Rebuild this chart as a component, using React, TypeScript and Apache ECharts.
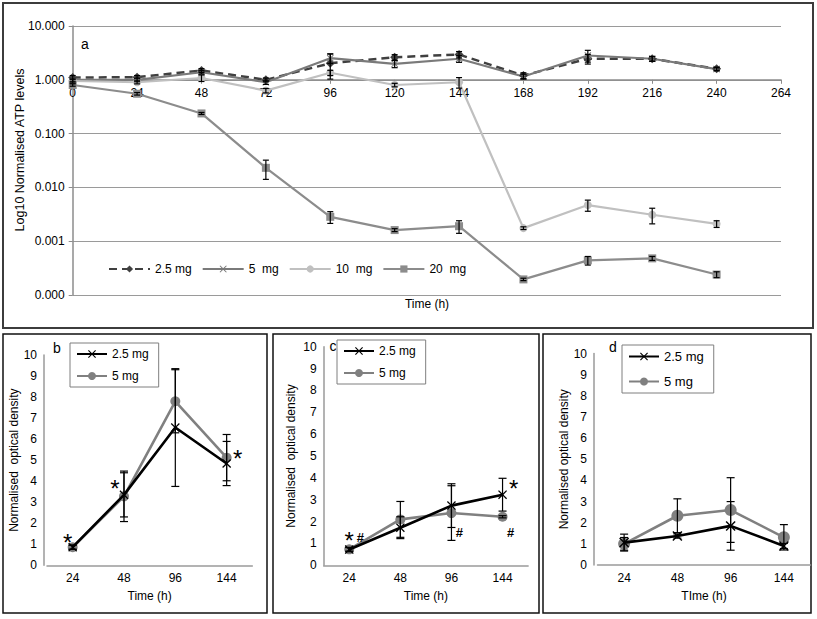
import React, { useEffect, useRef } from "react";
import * as echarts from "echarts";

const FONT = "'Liberation Sans', Arial, sans-serif";

// ---------- Panel a : ATP levels (log scale) ----------
const hoursA = [0, 24, 48, 72, 96, 120, 144, 168, 192, 216, 240];
const atp25 = [1.1, 1.12, 1.49, 1.0, 2.03, 2.63, 2.95, 1.2, 2.46, 2.46, 1.6];
const atp25Err = [0.1, 0.08, 0.12, 0.08, 1.0, 0.3, 0.4, 0.15, 0.5, 0.25, 0.12];
const atp5 = [1.0, 1.0, 1.38, 0.9, 2.52, 1.98, 2.46, 1.15, 2.83, 2.46, 1.58];
const atp5Err = [0.08, 0.08, 0.1, 0.08, 0.5, 0.3, 0.35, 0.12, 0.7, 0.25, 0.1];
const atp10 = [0.95, 0.9, 1.08, 0.63, 1.35, 0.8, 0.9, 0.00175, 0.0047, 0.0031, 0.0021];
const atp10Err = [0.08, 0.06, 0.15, 0.06, 0.15, 0.06, 0.2, 0.0001, 0.0011, 0.001, 0.0003];
const atp20 = [0.8, 0.55, 0.237, 0.0231, 0.00284, 0.00161, 0.0019, 0.000195, 0.00044, 0.00048, 0.00024];
const atp20Err = [0.04, 0.03, 0.01, 0.009, 0.0007, 0.0001, 0.0005, 0.00001, 0.00008, 0.00004, 0.00003];
const legendA = ["2.5 mg", "5  mg", "10  mg", "20  mg"];

// ---------- Panels b, c, d : optical density ----------
const timeCats = ["24", "48", "96", "144"];
const legendBCD = ["2.5 mg", "5 mg"];
const b25 = [0.86, 3.35, 6.55, 4.84];
const b25Err = [0.1, 1.05, 2.8, 1.05];
const b5 = [0.86, 3.28, 7.8, 5.12];
const b5Err = [0.1, 1.2, 1.5, 1.1];
const c25 = [0.72, 1.72, 2.73, 3.23];
const c25Err = [0.1, 0.5, 1.0, 0.75];
const c5 = [0.73, 2.1, 2.39, 2.22];
const c5Err = [0.08, 0.82, 1.25, 0.05];
const d25 = [1.06, 1.37, 1.85, 0.9];
const d25Err = [0.4, 0.1, 1.15, 0.12];
const d5 = [1.0, 2.33, 2.6, 1.31];
const d5Err = [0.3, 0.8, 1.53, 0.6];

// significance marks: text, category index, value they sit beside
const notesB = [
  { text: "*", cat: 0, value: 0.86 },
  { text: "*", cat: 1, value: 3.3 },
  { text: "*", cat: 3, value: 5.12 },
];
const notesC = [
  { text: "*", cat: 0, value: 0.73 },
  { text: "#", cat: 0, value: 0.73 },
  { text: "#", cat: 2, value: 2.39 },
  { text: "#", cat: 3, value: 2.22 },
  { text: "*", cat: 3, value: 3.23 },
];
const notesBOffset = [[-5, -5], [-9, -7], [11, 1]];
const notesCOffset = [[0, -9], [11, -12], [8, 19], [8, 16], [11, -6]];

const XMARK = "path://M1,0L5,4L9,0L10,1L6,5L10,9L9,10L5,6L1,10L0,9L4,5L0,1Z";

function errBars(xs: number[], ys: number[], errs: number[], gi: number, cap: number) {
  return {
    type: "custom",
    xAxisIndex: gi,
    yAxisIndex: gi,
    silent: true,
    z: 5,
    data: xs.map((x, i) => [x, ys[i] - errs[i], ys[i] + errs[i]]),
    encode: { x: 0, y: [1, 2] },
    renderItem: (params: any, api: any) => {
      const x = api.value(0);
      const a = api.coord([x, api.value(2)]);
      const b = api.coord([x, api.value(1)]);
      const st = { stroke: "#000", lineWidth: 1.2 };
      return {
        type: "group",
        children: [
          { type: "line", shape: { x1: a[0], y1: a[1], x2: b[0], y2: b[1] }, style: st },
          { type: "line", shape: { x1: a[0] - cap, y1: a[1], x2: a[0] + cap, y2: a[1] }, style: st },
          { type: "line", shape: { x1: b[0] - cap, y1: b[1], x2: b[0] + cap, y2: b[1] }, style: st },
        ],
      };
    },
  };
}

function notesSeries(notes: any[], offsets: number[][], gi: number) {
  return {
    type: "custom",
    xAxisIndex: gi,
    yAxisIndex: gi,
    silent: true,
    z: 6,
    data: notes.map((n) => [n.cat, n.value]),
    renderItem: (params: any, api: any) => {
      const i = params.dataIndex;
      const p = api.coord([api.value(0), api.value(1)]);
      const t = notes[i].text;
      const big = t === "*";
      return {
        type: "text",
        x: p[0] + offsets[i][0],
        y: p[1] + offsets[i][1],
        style: {
          text: t,
          fill: "#000",
          fontFamily: FONT,
          fontSize: big ? 24 : 13,
          fontWeight: big ? "normal" : "bold",
          align: "center",
          verticalAlign: "middle",
        },
      };
    },
  };
}

function lineA(name: string, vals: number[], color: string, symbol: string, size: number, dashed?: boolean) {
  return {
    type: "line",
    name,
    xAxisIndex: 0,
    yAxisIndex: 0,
    data: hoursA.map((h, i) => [h, vals[i]]),
    symbol,
    symbolSize: size,
    itemStyle: { color },
    lineStyle: { color, width: dashed ? 2.5 : 2.2, type: dashed ? [8, 5] : "solid" },
    z: 3,
  };
}

function linePanel(name: string, vals: number[], gi: number, black: boolean, size: number) {
  const color = black ? "#000000" : "#808080";
  return {
    type: "line",
    name,
    xAxisIndex: gi,
    yAxisIndex: gi,
    data: vals,
    symbol: black ? XMARK : "circle",
    symbolSize: black ? size - 1 : size,
    itemStyle: { color },
    lineStyle: { color, width: 2.6 },
    z: black ? 3 : 2,
  };
}

function panelAxes(gi: number, yOffset: number, nameGapY: number, yName: string, xName: string, fs: number) {
  const x = {
    type: "category",
    gridIndex: gi,
    data: timeCats,
    axisLine: { lineStyle: { color: "#9a9a9a", width: 1.5 } },
    axisTick: { show: false },
    axisLabel: { color: "#000", fontSize: fs, fontFamily: FONT, margin: 7 },
    name: xName,
    nameLocation: "middle",
    nameGap: 25,
    nameTextStyle: { color: "#000", fontSize: fs, fontFamily: FONT },
  };
  const y = {
    type: "value",
    gridIndex: gi,
    min: 0,
    max: 10,
    interval: 1,
    offset: yOffset,
    axisLine: { show: true, lineStyle: { color: "#9a9a9a", width: 1.5 } },
    axisTick: { show: false },
    splitLine: { show: false },
    axisLabel: { color: "#000", fontSize: fs, fontFamily: FONT, margin: 7 },
    name: yName,
    nameLocation: "middle",
    nameGap: nameGapY,
    nameTextStyle: { color: "#000", fontSize: fs, fontFamily: FONT },
  };
  return { x, y };
}

function panelLegend(prefix: string, left: number, top: number, fs: number, gap: number) {
  return {
    data: legendBCD.map((n) => prefix + n),
    formatter: (n: string) => n.slice(2),
    orient: "vertical",
    left,
    top,
    itemWidth: 30,
    itemHeight: 10,
    itemGap: gap,
    borderColor: "#7f7f7f",
    borderWidth: 1,
    padding: [5, 10, 5, 6],
    textStyle: { color: "#000", fontSize: fs, fontFamily: FONT },
    selectedMode: false,
  };
}

export default function App() {
  const ref = useRef<HTMLDivElement>(null);
  useEffect(() => {
    document.body.style.margin = "0";
    const chart = echarts.init(ref.current!, null, { renderer: "svg" });
    const pb = panelAxes(1, 3, 23, "Normalised  optical density", "Time (h)", 12);
    const pc = panelAxes(2, 0, 27, "Normalised  optical density", "Time (h)", 12);
    const pd = panelAxes(3, 3.5, 22, "Normalised optical density", "TIme (h)", 12);
    const option: any = {
      animation: false,
      backgroundColor: "#ffffff",
      textStyle: { fontFamily: FONT },
      grid: [
        { left: 72.7, top: 26, width: 708.3, height: 269 },
        { left: 47, top: 355, width: 205.3, height: 210.3 },
        { left: 323.7, top: 346.7, width: 204.4, height: 218.6 },
        { left: 597.5, top: 353.6, width: 213, height: 211.4 },
      ],
      xAxis: [
        {
          type: "value",
          gridIndex: 0,
          min: 0,
          max: 264,
          interval: 24,
          offset: -215.2,
          axisLine: { lineStyle: { color: "#8c8c8c", width: 1.5 } },
          axisTick: { show: true, length: 4, lineStyle: { color: "#8c8c8c" } },
          axisLabel: { color: "#000", fontSize: 12, fontFamily: FONT, margin: 7 },
          splitLine: { show: false },
        },
        pb.x,
        pc.x,
        pd.x,
      ],
      yAxis: [
        {
          type: "log",
          logBase: 10,
          gridIndex: 0,
          min: 0.0001,
          max: 10,
          axisLine: { show: true, lineStyle: { color: "#8c8c8c", width: 1.5 } },
          axisTick: { show: true, length: 4, lineStyle: { color: "#8c8c8c" } },
          axisLabel: {
            color: "#000",
            fontSize: 12,
            fontFamily: FONT,
            margin: 8,
            formatter: (v: number) => v.toFixed(3),
          },
          splitLine: { show: true, lineStyle: { color: "#9a9a9a", width: 1 } },
        },
        pb.y,
        pc.y,
        pd.y,
      ],
      legend: [
        {
          data: legendA.map((n) => "a:" + n),
          formatter: (n: string) => n.slice(2),
          left: 103,
          top: 258,
          itemWidth: 41,
          itemHeight: 9,
          itemGap: 10,
          textStyle: { color: "#000", fontSize: 12, fontFamily: FONT },
          selectedMode: false,
        },
        panelLegend("b:", 70, 343, 12, 10),
        panelLegend("c:", 337, 340, 12, 10),
        panelLegend("d:", 622, 345, 13, 12),
      ],
      series: [
        lineA("a:2.5 mg", atp25, "#404040", "diamond", 9, true),
        lineA("a:5  mg", atp5, "#7a7a7a", XMARK, 7),
        lineA("a:10  mg", atp10, "#c0c0c0", "circle", 8),
        lineA("a:20  mg", atp20, "#8c8c8c", "rect", 8),
        errBars(hoursA, atp25, atp25Err, 0, 3),
        errBars(hoursA, atp5, atp5Err, 0, 3),
        errBars(hoursA, atp10, atp10Err, 0, 3),
        errBars(hoursA, atp20, atp20Err, 0, 3),
        linePanel("b:2.5 mg", b25, 1, true, 10),
        linePanel("b:5 mg", b5, 1, false, 10),
        errBars([0, 1, 2, 3], b25, b25Err, 1, 4),
        errBars([0, 1, 2, 3], b5, b5Err, 1, 4),
        notesSeries(notesB, notesBOffset, 1),
        linePanel("c:2.5 mg", c25, 2, true, 10),
        linePanel("c:5 mg", c5, 2, false, 10),
        errBars([0, 1, 2, 3], c25, c25Err, 2, 4),
        errBars([0, 1, 2, 3], c5, c5Err, 2, 4),
        notesSeries(notesC, notesCOffset, 2),
        linePanel("d:2.5 mg", d25, 3, true, 11),
        linePanel("d:5 mg", d5, 3, false, 12),
        errBars([0, 1, 2, 3], d25, d25Err, 3, 4),
        errBars([0, 1, 2, 3], d5, d5Err, 3, 4),
      ],
      graphic: [
        { type: "rect", shape: { x: 3, y: 3, width: 810, height: 325 }, style: { fill: "none", stroke: "#3c3c3c", lineWidth: 2 }, silent: true },
        { type: "rect", shape: { x: 3, y: 334, width: 264, height: 279 }, style: { fill: "none", stroke: "#111", lineWidth: 1.5 }, silent: true },
        { type: "rect", shape: { x: 273, y: 334, width: 266, height: 279 }, style: { fill: "none", stroke: "#111", lineWidth: 1.5 }, silent: true },
        { type: "rect", shape: { x: 543, y: 334, width: 268, height: 279 }, style: { fill: "none", stroke: "#111", lineWidth: 1.5 }, silent: true },
        { type: "text", x: 20, y: 150, rotation: Math.PI / 2, style: { text: "Log10 Normalised ATP levels", fontSize: 12.5, fontFamily: FONT, fill: "#000", align: "center", verticalAlign: "middle" } },
        { type: "text", x: 85, y: 44, style: { text: "a", fontSize: 14, fontFamily: FONT, fill: "#000", align: "center", verticalAlign: "middle" } },
        { type: "text", x: 427, y: 304, style: { text: "Time (h)", fontSize: 12, fontFamily: FONT, fill: "#000", align: "center", verticalAlign: "middle" } },
        { type: "text", x: 57, y: 348, style: { text: "b", fontSize: 14, fontFamily: FONT, fill: "#000", align: "center", verticalAlign: "middle" } },
        { type: "text", x: 333, y: 346, style: { text: "c", fontSize: 14, fontFamily: FONT, fill: "#000", align: "center", verticalAlign: "middle" } },
        { type: "text", x: 613, y: 347, style: { text: "d", fontSize: 14, fontFamily: FONT, fill: "#000", align: "center", verticalAlign: "middle" } },
      ],
    };
    chart.setOption(option);
    return () => chart.dispose();
  }, []);
  return <div ref={ref} style={{ width: 817, height: 619 }} />;
}
